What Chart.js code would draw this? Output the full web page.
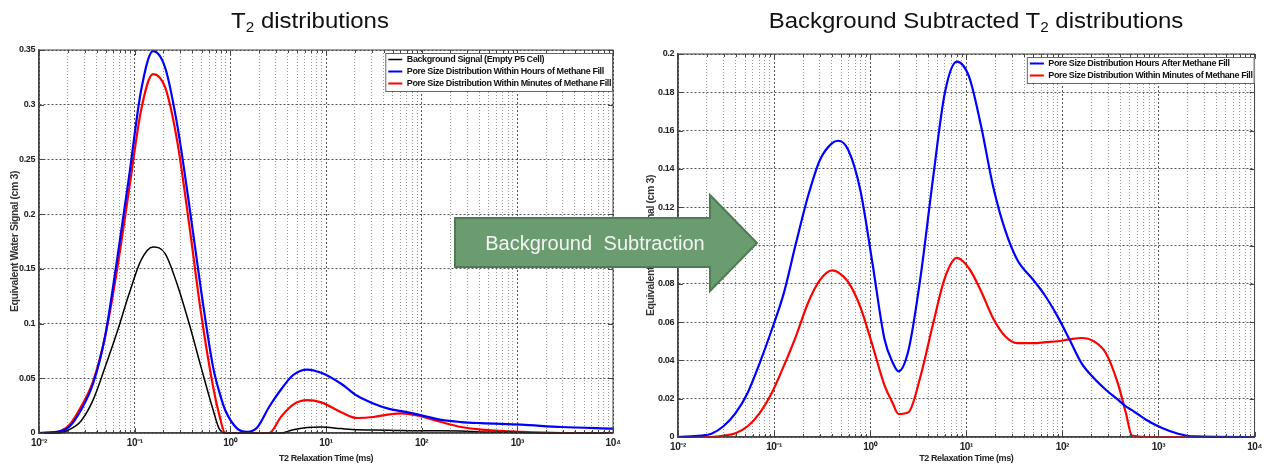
<!DOCTYPE html>
<html>
<head>
<meta charset="utf-8">
<script src="https://cdn.jsdelivr.net/npm/chart.js@4.4.1/dist/chart.umd.min.js"></script>
<style>
  html, body { margin: 0; padding: 0; background: #fff; }
  #wrap { position: relative; width: 1266px; height: 466px; overflow: hidden; background: #fff; }
  #wrap canvas { position: absolute; top: 0; }
  .title { position: absolute; top: 9px; font: 22px "Liberation Sans", Arial, sans-serif; line-height: 24px;
           color: #111; white-space: nowrap; transform: translateX(-50%) scaleX(1.09); }
  .title sub { font-size: 14px; vertical-align: -4px; line-height: 0; }
  #arrow { position: absolute; left: 0; top: 0; }
</style>
</head>
<body>
<div id="wrap">
  <canvas id="left" width="630" height="466" style="left:0;width:630px;height:466px"></canvas>
  <canvas id="right" width="636" height="466" style="left:630px;width:636px;height:466px"></canvas>
  <div class="title" style="left:310px">T<sub>2</sub> distributions</div>
  <div class="title" style="left:976px">Background Subtracted T<sub>2</sub> distributions</div>
  <svg id="arrow" width="1266" height="466">
    <polygon points="455,218 710,218 710,195 757,243 710,291 710,267 455,267"
             fill="#6a9c6f" stroke="#4e7b53" stroke-width="2"/>
    <text x="595" y="250" text-anchor="middle" font-family="Liberation Sans, Arial, sans-serif"
          font-size="20" fill="#f4f4f4" word-spacing="6">Background Subtraction</text>
  </svg>
</div>
<script>
// x axis ticks (ms)
const decadeTicks = [0.01, 0.1, 1, 10, 100, 1000, 10000];
const decadeLabels = ['10⁻²', '10⁻¹', '10⁰', '10¹', '10²', '10³', '10⁴'];

// left chart: T2 distributions
const leftT2 = [0.01, 0.0155, 0.0206, 0.0275, 0.0367, 0.049, 0.0654, 0.0873, 0.1167, 0.1556,
  0.208, 0.278, 0.371, 0.495, 0.661, 0.764, 0.883, 1.18, 1.5, 1.91,
  2.55, 3.4, 4.54, 6.35, 8.9, 14.4, 21.2, 31.2, 45.8, 61.2,
  90, 160, 259, 420, 1100, 2880, 10000];
const backgroundSignal = [0, 0, 0.003, 0.011, 0.030, 0.060, 0.092, 0.127, 0.158, 0.170,
  0.164, 0.136, 0.100, 0.060, 0.021, 0.004, 0, 0, 0, 0,
  0, 0, 0.003, 0.005, 0.0055, 0.004, 0.003, 0.0028, 0.0025, 0.0022,
  0.002, 0.002, 0.0018, 0.001, 0.0005, 0, 0];
const hoursFill = [0, 0.001, 0.0055, 0.021, 0.045, 0.088, 0.158, 0.234, 0.313, 0.349,
  0.334, 0.282, 0.209, 0.130, 0.060, 0.038, 0.021, 0.004, 0.001, 0.005,
  0.024, 0.040, 0.053, 0.058, 0.055, 0.045, 0.034, 0.027, 0.022, 0.020,
  0.017, 0.012, 0.010, 0.009, 0.0076, 0.0055, 0.004];
const minutesFill = [0, 0.001, 0.007, 0.024, 0.047, 0.088, 0.149, 0.222, 0.295, 0.328,
  0.316, 0.267, 0.191, 0.109, 0.042, 0.017, 0, 0, 0, 0,
  0, 0.015, 0.026, 0.030, 0.028, 0.019, 0.0137, 0.0146, 0.017, 0.018,
  0.016, 0.010, 0.0055, 0.003, 0.001, 0, 0];

// right chart: background subtracted
const rightT2 = [0.01, 0.0175, 0.0223, 0.0297, 0.0397, 0.053, 0.0708, 0.0946, 0.126, 0.1686,
  0.2254, 0.3006, 0.402, 0.465, 0.59, 0.789, 1.054, 1.41, 1.71, 1.97,
  2.51, 3.35, 4.48, 5.98, 7.98, 10.7, 14.3, 19.0, 25.4, 33.9,
  49.9, 66.7, 89.1, 119, 158, 212, 283, 378, 458, 530,
  741, 1090, 1600, 2360, 10000];
const hoursAfter = [0, 0.0007, 0.0017, 0.0056, 0.0125, 0.023, 0.0386, 0.056, 0.075, 0.101,
  0.1257, 0.1448, 0.1535, 0.1547, 0.150, 0.129, 0.091, 0.051, 0.039, 0.0343,
  0.0456, 0.084, 0.134, 0.1796, 0.196, 0.188, 0.162, 0.131, 0.108, 0.0926,
  0.082, 0.0735, 0.063, 0.0508, 0.0386, 0.0308, 0.0247, 0.0195, 0.016, 0.014,
  0.009, 0.0047, 0.0017, 0.0003, 0];
const minutesAfter = [0, 0, 0, 0.0007, 0.002, 0.0056, 0.0125, 0.023, 0.037, 0.0526,
  0.070, 0.082, 0.087, 0.086, 0.081, 0.068, 0.048, 0.027, 0.0178, 0.012,
  0.013, 0.032, 0.0585, 0.083, 0.0935, 0.088, 0.076, 0.062, 0.0526, 0.049,
  0.049, 0.0495, 0.050, 0.051, 0.0517, 0.050, 0.0439, 0.028, 0.0125, 0.0007,
  0, 0, 0, 0, 0];

// minor grid lines 2..9 in each decade
const allXTicks = decadeTicks.slice();
decadeTicks.slice(0, -1).forEach(d => { for (let m = 2; m <= 9; m++) allXTicks.push(d * m); });
allXTicks.sort((a, b) => a - b);
const decadeIndex = v => decadeTicks.findIndex(d => Math.abs(d - v) / d < 1e-6);

const sans = '"Liberation Sans", Arial, sans-serif';
const tickFont = { family: sans, size: 9, weight: 'bold' };

const series = (label, xs, ys, color, width) => ({
  label: label,
  data: xs.map((x, i) => ({ x: x, y: ys[i] })),
  borderColor: color,
  backgroundColor: color,
  borderWidth: width,
  pointRadius: 0,
  cubicInterpolationMode: 'monotone',
  clip: 4
});

// legend box sits in the top right corner of the plot, like matlab's
const legendBox = chart => {
  const a = chart.chartArea, col = chart.legend.columnSizes[0];
  const w = col.width + 5, h = col.height + 2;
  return { x: a.right - w, y: a.top + 3, w: w, h: h };
};

const framePlugin = {
  id: 'frame',
  beforeUpdate(chart) {
    // matlab's axis fonts are condensed
    chart.ctx.letterSpacing = '-0.4px';
  },
  afterLayout(chart) {
    const lg = chart.legend, pad = lg.options.labels.padding, b = legendBox(chart);
    lg.left = b.x + 3 - pad;
    lg.top = b.y + 2 - pad;
  },
  afterDatasetsDraw(chart) {
    const { ctx, chartArea: a, scales } = chart;
    const b = legendBox(chart);
    ctx.save();
    ctx.strokeStyle = '#444';
    ctx.lineWidth = 1;
    ctx.strokeRect(a.left, a.top, a.right - a.left, a.bottom - a.top);
    // inward tick marks on all four sides
    ctx.beginPath();
    scales.y.ticks.forEach(t => {
      const y = Math.round(scales.y.getPixelForValue(t.value)) + 0.5;
      ctx.moveTo(a.left, y); ctx.lineTo(a.left + 5, y);
      ctx.moveTo(a.right, y); ctx.lineTo(a.right - 5, y);
    });
    scales.x.ticks.forEach(t => {
      const x = Math.round(scales.x.getPixelForValue(t.value)) + 0.5;
      const len = decadeIndex(t.value) >= 0 ? 5 : 3;
      ctx.moveTo(x, a.bottom); ctx.lineTo(x, a.bottom - len);
      ctx.moveTo(x, a.top); ctx.lineTo(x, a.top + len);
    });
    ctx.stroke();
    ctx.fillStyle = '#fff';
    ctx.fillRect(b.x, b.y, b.w, b.h);
    ctx.strokeStyle = '#666';
    ctx.strokeRect(b.x + 0.5, b.y + 0.5, b.w - 1, b.h);
    ctx.restore();
    // legend again, on top of the lines and its white box
    chart.legend.draw();
  }
};

const makeChart = (id, datasets, yMax, yStep, padding, yWidth, xHeight, yTitlePad) => new Chart(document.getElementById(id), {
  type: 'line',
  data: { datasets: datasets },
  options: {
    responsive: false,
    animation: false,
    layout: { padding: padding },
    plugins: {
      legend: {
        position: 'chartArea',
        align: 'start',
        labels: { usePointStyle: true, pointStyle: 'line', pointStyleWidth: 14, padding: 3, color: '#111', font: tickFont }
      },
      tooltip: { enabled: false }
    },
    scales: {
      x: {
        type: 'logarithmic',
        min: 0.01,
        max: 10000,
        afterBuildTicks: s => { s.ticks = allXTicks.map(v => ({ value: v })); },
        afterFit: s => { s.height = xHeight; },
        ticks: {
          autoSkip: false, maxRotation: 0, padding: 4, color: '#222', font: { family: sans, size: 10, weight: 'bold' },
          callback: v => { const i = decadeIndex(v); return i >= 0 ? decadeLabels[i] : ''; }
        },
        grid: { drawTicks: false, color: c => (c.tick && decadeIndex(c.tick.value) >= 0 ? '#555' : '#999') },
        border: { color: '#444', width: 1.5, dash: c => (c.tick && decadeIndex(c.tick.value) >= 0 ? [2, 2] : [1, 2]) },
        title: { display: true, text: 'T2 Relaxation Time (ms)', color: '#222', font: { family: sans, size: 9, weight: 'bold' }, padding: { top: 0, bottom: 2 } }
      },
      y: {
        min: 0,
        max: yMax,
        afterFit: s => { s.width = yWidth; },
        ticks: { stepSize: yStep, padding: 4, color: '#222', font: tickFont, callback: v => String(+v.toFixed(2)) },
        grid: { drawTicks: false, color: '#555' },
        border: { color: '#444', width: 1.5, dash: [2, 2] },
        title: { display: true, text: 'Equivalent Water Signal (cm 3)', color: '#333', font: { family: sans, size: 10.5, weight: 'bold' }, padding: { top: yTitlePad, bottom: 0 } }
      }
    }
  },
  plugins: [framePlugin]
});

makeChart('left', [
  series('Background Signal (Empty P5 Cell)', leftT2, backgroundSignal, '#000000', 1.5),
  series('Pore Size Distribution Within Hours of Methane Fill', leftT2, hoursFill, '#0000ff', 2.2),
  series('Pore Size Distribution Within Minutes of Methane Fill', leftT2, minutesFill, '#ff0000', 2.2)
], 0.35, 0.05, { top: 50, right: 17, left: 0, bottom: 0 }, 39, 33, 9);

makeChart('right', [
  series('Pore Size Distribution Hours After Methane Fill', rightT2, hoursAfter, '#0000ff', 2.2),
  series('Pore Size Distribution Within Minutes of Methane Fill', rightT2, minutesAfter, '#ff0000', 2.2)
], 0.2, 0.02, { top: 54, right: 10, left: 0, bottom: 0 }, 48, 29, 15);
</script>
</body>
</html>
